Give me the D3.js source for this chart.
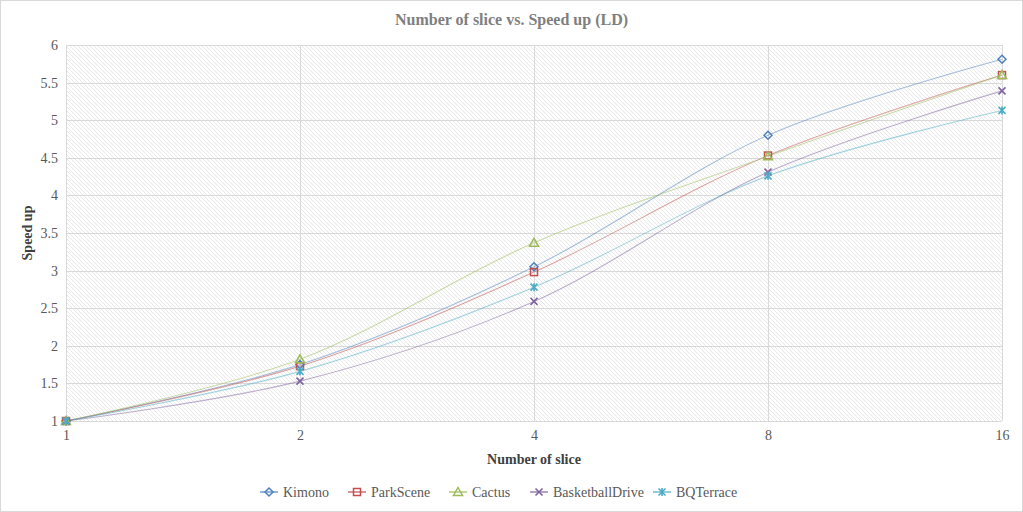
<!DOCTYPE html>
<html><head><meta charset="utf-8">
<script src="https://cdn.jsdelivr.net/npm/d3@7"></script>
<style>body{margin:0;background:#fff}svg{display:block}
svg text{font-family:"Liberation Serif","Tinos","Noto Serif","DejaVu Serif","FreeSerif","Times New Roman",Times,serif;}</style>
</head><body><svg id="c" width="1023" height="512"></svg>
<script>
const categories = ["1","2","4","8","16"];
const seriesNames = ["Kimono","ParkScene","Cactus","BasketballDrive","BQTerrace"];
const kimono = [1, 1.75, 3.05, 4.80, 5.81];
const parkScene = [1, 1.73, 2.98, 4.53, 5.60];
const cactus = [1, 1.82, 3.37, 4.52, 5.60];
const basketballDrive = [1, 1.53, 2.59, 4.31, 5.39];
const bqTerrace = [1, 1.66, 2.78, 4.26, 5.13];
const yTicks = [1,1.5,2,2.5,3,3.5,4,4.5,5,5.5,6];
const colors = ["#4F81BD","#C0504D","#9BBB59","#8064A2","#4BACC6"];
const markers = ["diamond","square","triangle","x","star"];
const allSeries = [kimono, parkScene, cactus, basketballDrive, bqTerrace];

const svg = d3.select("#c");
const W = 1023, H = 512;
const m = {l:66, r:1002, t:45, b:421};
const x = d3.scalePoint().domain(categories).range([m.l, m.r]);
const y = d3.scaleLinear().domain([1,6]).range([m.b, m.t]);
const FONT = '"Liberation Serif","Tinos","Noto Serif","DejaVu Serif","FreeSerif","Times New Roman",Times,serif';

svg.append("rect").attr("x",0.5).attr("y",0.5).attr("width",W-1).attr("height",H-1)
  .attr("fill","#fff").attr("stroke","#d9d9d9");

const defs = svg.append("defs");
const pat = defs.append("pattern").attr("id","hatch").attr("patternUnits","userSpaceOnUse")
  .attr("width",4).attr("height",4);
pat.append("rect").attr("width",4).attr("height",4).attr("fill","#fff");
pat.append("path").attr("d","M-1,-1 L5,5 M3,-1 L5,1 M-1,3 L1,5").attr("stroke","#e3e3e3").attr("stroke-width",0.8);

svg.append("rect").attr("x",m.l).attr("y",m.t).attr("width",m.r-m.l).attr("height",m.b-m.t)
  .attr("fill","url(#hatch)");

svg.append("g").selectAll("line").data(yTicks).join("line")
  .attr("x1",m.l).attr("x2",m.r).attr("y1",d=>Math.round(y(d))+0.5).attr("y2",d=>Math.round(y(d))+0.5)
  .attr("stroke","#d9d9d9");
svg.append("g").selectAll("line").data(categories).join("line")
  .attr("y1",m.t).attr("y2",m.b).attr("x1",d=>Math.round(x(d))+0.5).attr("x2",d=>Math.round(x(d))+0.5)
  .attr("stroke","#d9d9d9");

const yAxis = svg.append("g").attr("transform",`translate(${m.l},0)`)
  .call(d3.axisLeft(y).tickValues(yTicks).tickSize(0).tickPadding(8).tickFormat(d=>String(d)));
yAxis.attr("font-family",FONT);
yAxis.select(".domain").remove();
yAxis.selectAll("text").attr("font-size",14).attr("fill","#595959");
const xAxis = svg.append("g").attr("transform",`translate(0,${m.b})`)
  .call(d3.axisBottom(x).tickSize(0).tickPadding(9));
xAxis.attr("font-family",FONT);
xAxis.select(".domain").remove();
xAxis.selectAll("text").attr("font-size",14).attr("fill","#595959");

svg.append("text").attr("x",W/2).attr("y",25).attr("text-anchor","middle")
  .attr("font-weight","bold").attr("font-size",16)
  .attr("fill","#7f7f7f").text("Number of slice vs. Speed up (LD)");
svg.append("text").attr("x",534).attr("y",464).attr("text-anchor","middle")
  .attr("font-weight","bold").attr("font-size",14)
  .attr("fill","#404040").text("Number of slice");
svg.append("text").attr("transform","translate(32,233) rotate(-90)").attr("text-anchor","middle")
  .attr("font-weight","bold").attr("font-size",14)
  .attr("fill","#404040").text("Speed up");

const line = d3.line().x((d,i)=>x(categories[i])).y(d=>y(d)).curve(d3.curveCatmullRom.alpha(0.5));

function drawMarker(g, type, color, cx, cy){
  const s = 4;
  if(type==="diamond"){
    g.append("path").attr("d",`M${cx},${cy-s} L${cx+s},${cy} L${cx},${cy+s} L${cx-s},${cy} Z`)
      .attr("fill","none").attr("stroke",color).attr("stroke-width",1.5);
  } else if(type==="square"){
    g.append("rect").attr("x",cx-3.5).attr("y",cy-3.5).attr("width",7).attr("height",7)
      .attr("fill","none").attr("stroke",color).attr("stroke-width",1.5);
  } else if(type==="triangle"){
    g.append("path").attr("d",`M${cx},${cy-4.5} L${cx+4.5},${cy+3.5} L${cx-4.5},${cy+3.5} Z`)
      .attr("fill","none").attr("stroke",color).attr("stroke-width",1.5);
  } else if(type==="x"){
    g.append("path").attr("d",`M${cx-3.5},${cy-3.5} L${cx+3.5},${cy+3.5} M${cx+3.5},${cy-3.5} L${cx-3.5},${cy+3.5}`)
      .attr("stroke",color).attr("stroke-width",1.6);
  } else {
    g.append("path").attr("d",`M${cx-3.5},${cy-3.5} L${cx+3.5},${cy+3.5} M${cx+3.5},${cy-3.5} L${cx-3.5},${cy+3.5} M${cx},${cy-4} L${cx},${cy+4}`)
      .attr("stroke",color).attr("stroke-width",1.6);
  }
}

const plot = svg.append("g");
allSeries.forEach((vals,k)=>{
  plot.append("path").datum(vals).attr("d",line).attr("fill","none")
    .attr("stroke",colors[k]).attr("stroke-opacity",0.5).attr("stroke-width",1.1);
});
allSeries.forEach((vals,k)=>{
  const g = plot.append("g");
  vals.forEach((v,i)=>drawMarker(g, markers[k], colors[k], x(categories[i]), y(v)));
});

const legX = [260, 348, 449, 530, 653];
const legend = svg.append("g");
seriesNames.forEach((n,k)=>{
  const lx = legX[k], ly = 492;
  legend.append("line").attr("x1",lx).attr("x2",lx+18).attr("y1",ly).attr("y2",ly)
    .attr("stroke",colors[k]).attr("stroke-width",1.2);
  drawMarker(legend, markers[k], colors[k], lx+9, ly);
  legend.append("text").attr("x",lx+23).attr("y",ly+5)
    .attr("font-size",14).attr("fill","#595959").text(n);
});
</script></body></html>
